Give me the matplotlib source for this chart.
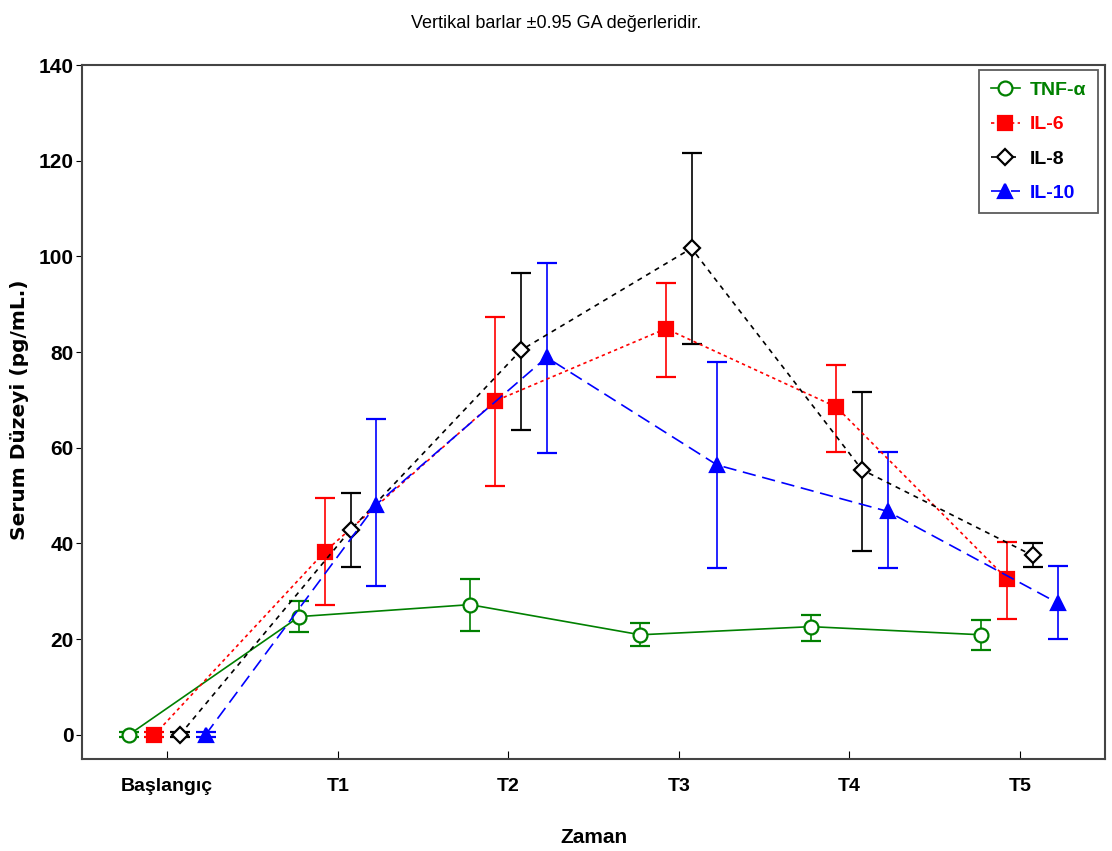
import numpy as np
import matplotlib.pyplot as plt
from matplotlib.lines import Line2D

# Veriler
zaman = ['Başlangıç', 'T1', 'T2', 'T3', 'T4', 'T5']

tnf = [0, 24.7, 27.2, 20.9, 22.6, 20.9]
tnf_low = [-0.5, 21.5, 21.7, 18.6, 19.5, 17.8]
tnf_high = [0.5, 28.0, 32.6, 23.4, 25.1, 24.0]

il6 = [0, 38.3, 69.8, 84.9, 68.5, 32.6]
il6_low = [-0.5, 27.1, 52.1, 74.8, 59.2, 24.3]
il6_high = [0.5, 49.6, 87.3, 94.4, 77.3, 40.4]

il8 = [0, 42.8, 80.4, 101.7, 55.4, 37.5]
il8_low = [-0.5, 35.0, 63.7, 81.7, 38.4, 35.1]
il8_high = [0.5, 50.6, 96.6, 121.7, 71.7, 40.0]

il10 = [0, 48.1, 78.9, 56.4, 46.7, 27.5]
il10_low = [-0.5, 31.1, 59.0, 34.8, 34.8, 20.1]
il10_high = [0.5, 66.0, 98.6, 78.0, 59.2, 35.3]

plt.rcParams['font.family'] = ['Liberation Sans', 'DejaVu Sans']

fig = plt.figure(figsize=(11.12, 8.51), dpi=100)
ax = fig.add_axes([0.0737, 0.1085, 0.92, 0.815])

x = np.arange(len(zaman))

series = [
    ('TNF-α', tnf, tnf_low, tnf_high, -0.225, '#008000', '-', 'o', 'white'),
    ('IL-6', il6, il6_low, il6_high, -0.075, '#ff0000', (0, (2, 2)), 's', '#ff0000'),
    ('IL-8', il8, il8_low, il8_high, 0.075, 'black', (0, (3, 3)), 'D', 'white'),
    ('IL-10', il10, il10_low, il10_high, 0.225, '#0000ff', (0, (8, 4)), '^', '#0000ff'),
]

handles = []
for name, vals, lo, hi, off, col, ls, mk, fc in series:
    vals = np.array(vals)
    err = [vals - np.array(lo), np.array(hi) - vals]
    ms = 10 if mk != 'D' else 8
    ax.errorbar(x + off, vals, yerr=err, color=col, ecolor=col, elinewidth=1.2,
                capsize=7, capthick=1.2, linestyle=ls, linewidth=1.2,
                marker=mk, markersize=ms,
                markerfacecolor=fc, markeredgecolor=col, markeredgewidth=1.6,
                zorder=3)
    handles.append(Line2D([], [], color=col, linestyle=ls, linewidth=1.2, marker=mk,
                          markersize=ms, markerfacecolor=fc, markeredgecolor=col,
                          markeredgewidth=1.6, label=name))

ax.set_xlim(-0.5, 5.5)
ax.set_ylim(-5, 140)
ax.set_xticks(x)
ax.set_xticklabels(zaman, fontsize=14, fontweight='bold')
ax.set_yticks(range(0, 141, 20))
ax.set_yticklabels([str(v) for v in range(0, 141, 20)], fontsize=15, fontweight='bold')
ax.tick_params(axis='x', direction='in', length=6, pad=14)
ax.tick_params(axis='y', direction='out', length=4, pad=2)

for s in ax.spines.values():
    s.set_color('#444444')
    s.set_linewidth(1.5)

ax.set_xlabel('Zaman', fontsize=15, fontweight='bold', labelpad=24)
ax.set_ylabel('Serum Düzeyi (pg/mL.)', fontsize=14.5, fontweight='bold',
              family=['DejaVu Sans'])
ax.yaxis.set_label_coords(-0.052, 0.503)

fig.text(0.5, 0.972, 'Vertikal barlar ±0.95 GA değerleridir.', ha='center', va='center',
         fontsize=13, family=['Liberation Sans Narrow', 'Liberation Sans', 'DejaVu Sans'])

leg = ax.legend(handles=handles, loc='upper right', fontsize=14, frameon=True,
                fancybox=False, handlelength=1.5, handletextpad=0.5, borderpad=0.6,
                labelspacing=0.85, borderaxespad=0, bbox_to_anchor=(0.993, 0.993))
leg.get_frame().set_edgecolor('#333333')
leg.get_frame().set_linewidth(1.3)
for txt, h in zip(leg.get_texts(), handles):
    txt.set_color(h.get_color())
    txt.set_fontweight('bold')

fig.savefig('out.png', dpi=100)
